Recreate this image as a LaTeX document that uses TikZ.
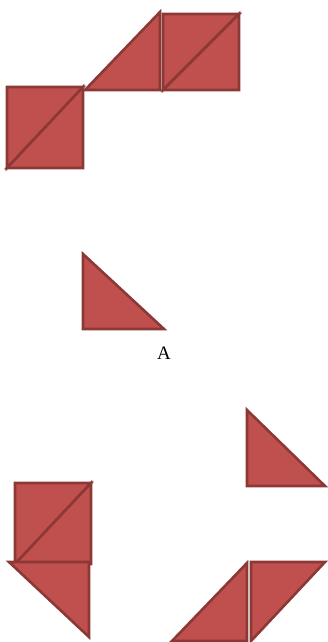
\documentclass[tikz,border=0pt]{standalone}
\usepackage{fontspec}
\setmainfont{Liberation Serif}
\usepackage{tikz}
\definecolor{piecefill}{HTML}{C0504D}
\definecolor{pieceline}{HTML}{8C3836}
\tikzset{piece/.style={fill=piecefill,draw=pieceline,line width=2.6pt}}

\begin{document}
\begin{tikzpicture}[x=1pt,y=-1pt]
    \useasboundingbox (0,0) rectangle (328,642);

    % upper figure
    \foreach \ax/\ay/\bx/\by/\cx/\cy in {7/87/83/87/7/168, 83/87/83/168/7/168,
        85/90/160/12/160/90, 163/14/239/14/163/90, 163/90/239/90/239/14}
      \draw[piece] (\ax,\ay) -- (\bx,\by) -- (\cx,\cy) -- cycle;

    % single piece
    \draw[piece] (83,254) -- (83,329) -- (164,329) -- cycle;
    \node (lbl) at (164,353) {\fontsize{19}{22}\selectfont A};

    % lower figure
    \foreach \ax/\ay/\bx/\by/\cx/\cy in {247/410/247/486/325/486,
        15/483/91/483/15/564, 91/483/91/564/15/564, 9/562/89/562/89/637,
        172/641/247/563/247/641, 251/562/325/562/251/641}
      \draw[piece] (\ax,\ay) -- (\bx,\by) -- (\cx,\cy) -- cycle;
  \end{tikzpicture}
\end{document}
